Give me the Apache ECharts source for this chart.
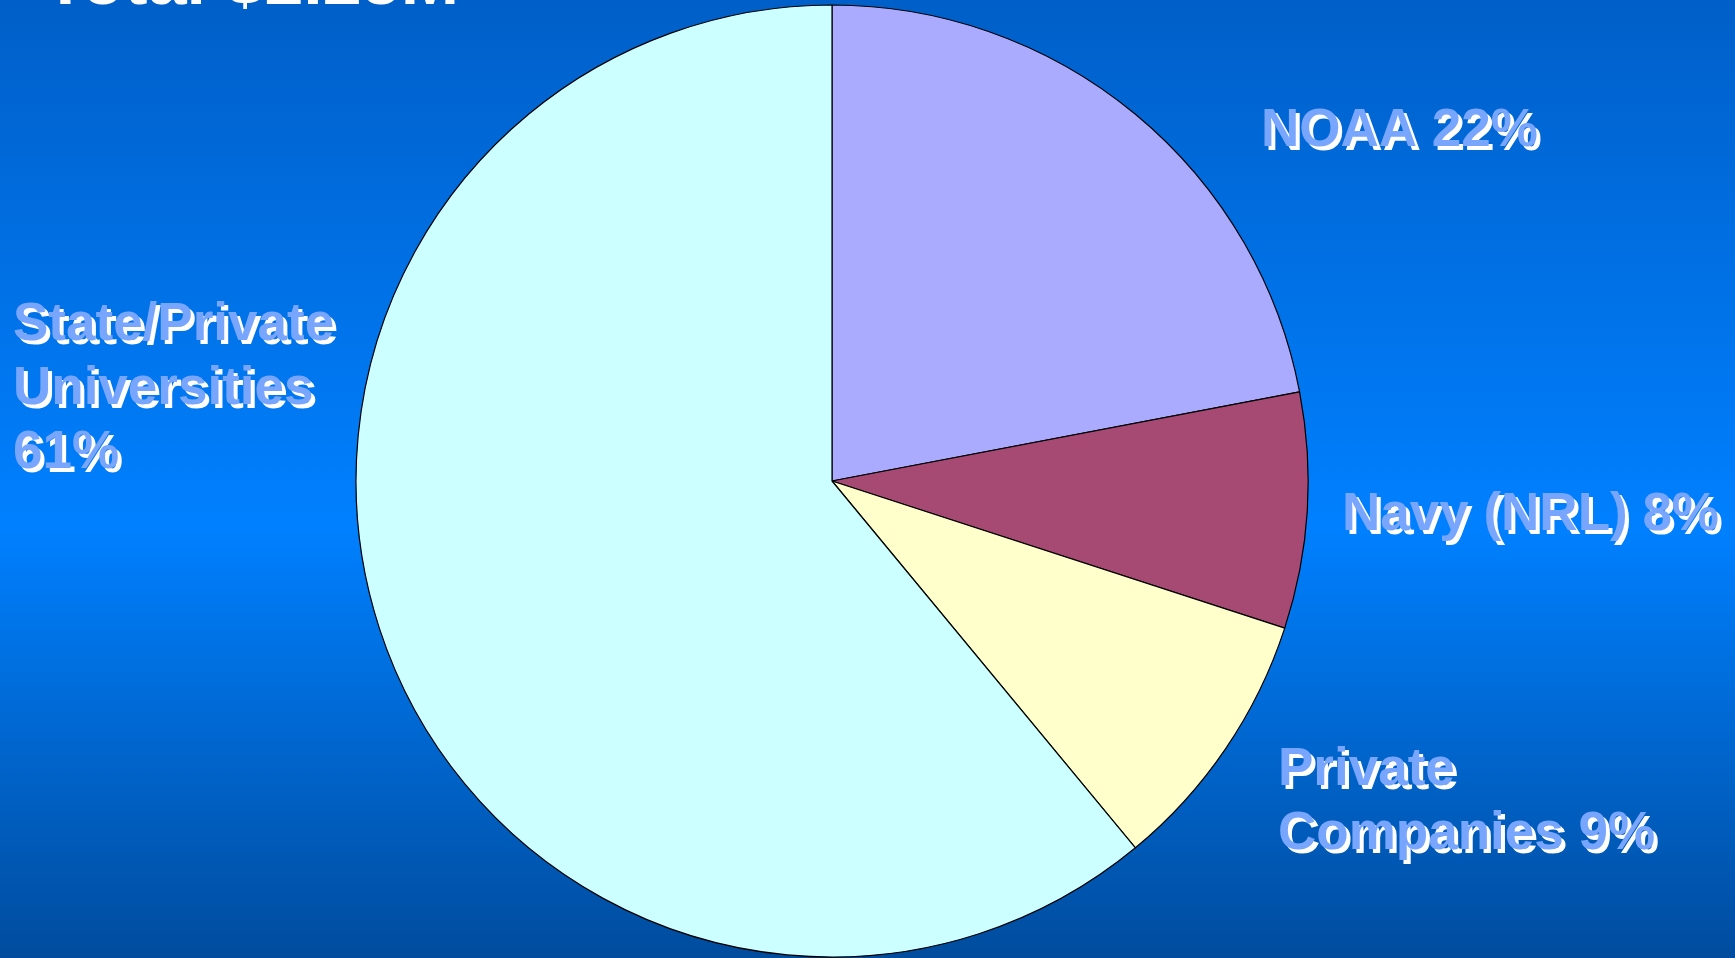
<!DOCTYPE html>
<html>
<head>
<meta charset="utf-8">
<script src="https://cdn.jsdelivr.net/npm/echarts@6/dist/echarts.min.js"></script>
<style>
  html, body { margin: 0; padding: 0; width: 1735px; height: 958px; overflow: hidden; }
  #chart { width: 1735px; height: 958px; }
</style>
</head>
<body>
<div id="chart"></div>
<script>
// ---- data ----
const categories = ['NOAA', 'Navy (NRL)', 'Private\nCompanies', 'State/Private\nUniversities'];
const shares = [22, 8, 9, 61];
const sliceColors = ['#AAAAFF', '#A64A73', '#FFFFCC', '#CCFFFF'];
const titleText = 'Total $2.25M';

// ---- label placement (layout only) ----
const labelAnchors = [
  { x: 1261, y: 131 },
  { x: 1342, y: 515 },
  { x: 1278, y: 802 },
  { x: 13, y: 389 }
];

const chart = echarts.init(document.getElementById('chart'), null, { renderer: 'canvas' });

const option = {
  animation: false,
  backgroundColor: {
    type: 'linear', x: 0, y: 0, x2: 0, y2: 1,
    colorStops: [
      { offset: 0, color: '#005FC8' },
      { offset: 0.55, color: '#0080FF' },
      { offset: 1, color: '#004C9E' }
    ]
  },
  graphic: [{
    type: 'text',
    left: 44,
    top: -50,
    style: {
      text: titleText,
      fill: '#FFFFFF',
      font: 'bold 70px "Liberation Sans", Arial, sans-serif'
    }
  }],
  series: [{
    type: 'pie',
    center: [832, 481],
    radius: 476,
    startAngle: 90,
    clockwise: true,
    avoidLabelOverlap: false,
    silent: true,
    itemStyle: { borderColor: '#000000', borderWidth: 1.2 },
    label: {
      show: true,
      position: 'outside',
      color: '#78A6FF',
      fontFamily: '"Liberation Sans", Arial, sans-serif',
      fontWeight: 'bold',
      fontSize: 53,
      lineHeight: 64,
      textShadowColor: '#FFFFFF',
      textShadowBlur: 0.01,
      textShadowOffsetX: 4,
      textShadowOffsetY: 4,
      formatter: p => p.name + (p.dataIndex === 3 ? '\n' : ' ') + p.value + '%'
    },
    labelLine: { show: false },
    labelLayout: p => ({
      x: labelAnchors[p.dataIndex].x,
      y: labelAnchors[p.dataIndex].y,
      align: 'left',
      verticalAlign: 'middle',
      hideOverlap: false
    }),
    data: categories.map((c, i) => ({
      name: c,
      value: shares[i],
      itemStyle: { color: sliceColors[i] }
    }))
  }]
};
chart.setOption(option);
</script>
</body>
</html>
